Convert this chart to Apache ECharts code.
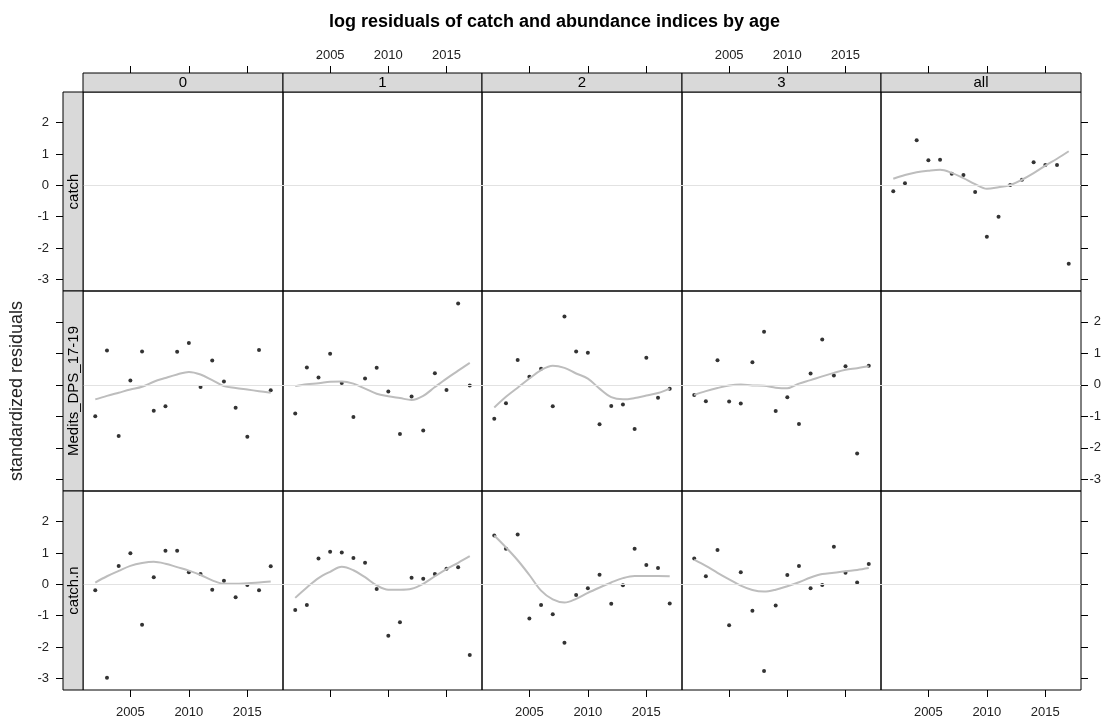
<!DOCTYPE html>
<html><head><meta charset="utf-8">
<script src="https://cdn.jsdelivr.net/npm/echarts@6/dist/echarts.min.js"></script>
<style>html,body{margin:0;padding:0;background:#fff}#c{width:1109px;height:720px}</style>
</head><body><div id="c"></div>
<script>
// ---- data ----
const years = [2002,2003,2004,2005,2006,2007,2008,2009,2010,2011,2012,2013,2014,2015,2016,2017];
const ages = ['0','1','2','3','all'];
const qnames = ['catch','Medits_DPS_17-19','catch.n'];
const xTicks = [2005,2010,2015];
const yTicks = [-3,-2,-1,0,1,2];

const catchAll    = [-0.19,0.07,1.44,0.80,0.82,0.37,0.33,-0.21,-1.64,-1.00,0.01,0.18,0.74,0.65,0.65,-2.50];
const catchAllFit = [0.21,0.33,0.42,0.47,0.50,0.40,0.23,0.04,-0.11,-0.06,0.01,0.18,0.39,0.63,0.85,1.09];

const medits0    = [-1.00,1.09,-1.62,0.14,1.06,-0.82,-0.68,1.05,1.33,-0.07,0.77,0.11,-0.73,-1.65,1.11,-0.17];
const medits0Fit = [-0.46,-0.35,-0.25,-0.15,-0.06,0.10,0.22,0.33,0.41,0.33,0.15,-0.04,-0.10,-0.15,-0.20,-0.25];
const medits1    = [-0.91,0.55,0.23,0.99,0.06,-1.02,0.20,0.54,-0.21,-1.56,-0.37,-1.45,0.37,-0.16,2.58,-0.02];
const medits1Fit = [-0.04,0.02,0.05,0.10,0.11,0.04,-0.12,-0.28,-0.36,-0.42,-0.48,-0.35,-0.07,0.20,0.45,0.70];
const medits2    = [-1.08,-0.58,0.79,0.26,0.51,-0.68,2.17,1.06,1.02,-1.25,-0.67,-0.62,-1.40,0.86,-0.41,-0.12];
const medits2Fit = [-0.72,-0.38,-0.09,0.20,0.47,0.61,0.54,0.36,0.20,-0.12,-0.39,-0.46,-0.42,-0.34,-0.26,-0.12];
const medits3    = [-0.32,-0.52,0.78,-0.53,-0.59,0.72,1.69,-0.83,-0.39,-1.24,0.36,1.44,0.30,0.59,-2.18,0.61];
const medits3Fit = [-0.32,-0.20,-0.10,-0.02,0.01,-0.02,-0.03,-0.09,-0.11,0.04,0.15,0.27,0.38,0.48,0.53,0.59];

const catchN0    = [-0.19,-2.98,0.59,0.99,-1.29,0.23,1.07,1.07,0.39,0.33,-0.17,0.12,-0.41,-0.02,-0.19,0.58];
const catchN0Fit = [0.06,0.26,0.43,0.59,0.68,0.72,0.66,0.55,0.44,0.30,0.13,0.02,0.02,0.04,0.06,0.09];
const catchN1    = [-0.82,-0.66,0.83,1.04,1.02,0.84,0.69,-0.15,-1.64,-1.21,0.21,0.18,0.33,0.50,0.55,-2.25];
const catchN1Fit = [-0.43,-0.10,0.20,0.40,0.56,0.45,0.23,-0.03,-0.17,-0.17,-0.14,0.02,0.26,0.49,0.69,0.90];
const catchN2    = [1.56,1.14,1.59,-1.09,-0.66,-0.95,-1.86,-0.34,-0.12,0.31,-0.62,-0.03,1.14,0.62,0.52,-0.61];
const catchN2Fit = [1.56,1.18,0.77,0.30,-0.20,-0.48,-0.58,-0.46,-0.27,-0.10,0.06,0.20,0.27,0.27,0.27,0.26];
const catchN3    = [0.83,0.26,1.10,-1.30,0.39,-0.84,-2.76,-0.67,0.30,0.59,-0.12,-0.02,1.20,0.37,0.06,0.65];
const catchN3Fit = [0.79,0.59,0.37,0.16,-0.04,-0.18,-0.23,-0.17,-0.06,0.07,0.22,0.33,0.37,0.42,0.46,0.52];

const panels = [
  {row:0,col:4,pts:catchAll,fit:catchAllFit},
  {row:1,col:0,pts:medits0,fit:medits0Fit},
  {row:1,col:1,pts:medits1,fit:medits1Fit},
  {row:1,col:2,pts:medits2,fit:medits2Fit},
  {row:1,col:3,pts:medits3,fit:medits3Fit},
  {row:2,col:0,pts:catchN0,fit:catchN0Fit},
  {row:2,col:1,pts:catchN1,fit:catchN1Fit},
  {row:2,col:2,pts:catchN2,fit:catchN2Fit},
  {row:2,col:3,pts:catchN3,fit:catchN3Fit}
];

// ---- layout ----
const FONT = 'Liberation Sans, Arial, sans-serif';
const L=83, R=1081, T=92, B=690, S=19;
const X_MIN=2000.95, X_MAX=2018.05, Y_MIN=-3.37, Y_MAX=2.98;
const colEdge = c => Math.round(L + (R-L)*c/5);
const rowEdge = r => Math.round(T + (B-T)*r/3);

const grids=[], xAxes=[], yAxes=[], series=[], graphics=[];
const fmt = v => String(v);
for (let r=0;r<3;r++){
  for (let c=0;c<5;c++){
    const gi = grids.length;
    grids.push({left:colEdge(c), top:rowEdge(r), width:colEdge(c+1)-colEdge(c), height:rowEdge(r+1)-rowEdge(r),
      show:true, borderColor:'#000', borderWidth:1, backgroundColor:'transparent', containLabel:false});
    const xa = {type:'value', gridIndex:gi, min:X_MIN, max:X_MAX, splitLine:{show:false}};
    if (r===0 || r===2){
      Object.assign(xa,{position: r===0?'top':'bottom', offset: r===0?S:0,
        axisLine:{show:false, onZero:false},
        axisTick:{show:true, inside:false, length:7, lineStyle:{color:'#000',width:1}, customValues:xTicks},
        axisLabel:{show: r===0 ? (c%2===1) : (c%2===0), margin: r===0?11:16, customValues:xTicks,
          formatter:fmt, fontFamily:FONT, fontSize:13, color:'#222'}});
    } else { xa.show=false; xa.axisLine={show:false,onZero:false}; }
    xAxes.push(xa);
    const ya = {type:'value', gridIndex:gi, min:Y_MIN, max:Y_MAX, splitLine:{show:false}};
    if (c===0 || c===4){
      const labelShow = c===0 ? r!==1 : r===1;
      Object.assign(ya,{position: c===0?'left':'right', offset: c===0?20:0,
        axisLine:{show:false, onZero:false},
        axisTick:{show:true, inside:false, length:7, lineStyle:{color:'#000',width:1}, customValues:yTicks},
        axisLabel:{show:labelShow, margin:c===0?14:20, align:'right', customValues:yTicks, formatter:fmt,
          fontFamily:FONT, fontSize:13, color:'#222'}});
      if (c===0 && r===1){
        Object.assign(ya,{name:'standardized residuals', nameLocation:'middle', nameGap:37,
          nameTextStyle:{fontFamily:FONT, fontSize:18, color:'#222'}});
      }
    } else { ya.show=false; ya.axisLine={show:false,onZero:false}; }
    yAxes.push(ya);
    // zero reference line
    series.push({type:'line', xAxisIndex:gi, yAxisIndex:gi, data:[], z:1,
      markLine:{silent:true, symbol:['none','none'], label:{show:false},
        lineStyle:{color:'#e2e2e2', width:1, type:'solid'}, data:[{yAxis:0}]}});
  }
}
panels.forEach(p=>{
  const gi = p.row*5 + p.col;
  series.push({type:'scatter', xAxisIndex:gi, yAxisIndex:gi, z:2, symbol:'circle', symbolSize:4,
    itemStyle:{color:'#000'}, data: years.map((y,i)=>[y,p.pts[i]])});
  series.push({type:'line', xAxisIndex:gi, yAxisIndex:gi, z:3, smooth:0.35, showSymbol:false,
    lineStyle:{color:'#bdbdbd', width:2}, data: years.map((y,i)=>[y,p.fit[i]])});
});

// strips
for (let c=0;c<5;c++){
  const x0=colEdge(c), x1=colEdge(c+1);
  graphics.push({type:'rect', shape:{x:x0, y:T-S, width:x1-x0, height:S}, style:{fill:'#d9d9d9', stroke:'#000', lineWidth:1}, z:10});
  graphics.push({type:'text', x:(x0+x1)/2, y:T-S/2+0.5, style:{text:ages[c], fontFamily:FONT, fontSize:15, fill:'#000', align:'center', verticalAlign:'middle'}, z:11});
}
for (let r=0;r<3;r++){
  const y0=rowEdge(r), y1=rowEdge(r+1);
  graphics.push({type:'rect', shape:{x:L-20, y:y0, width:20, height:y1-y0}, style:{fill:'#d9d9d9', stroke:'#000', lineWidth:1}, z:10});
  graphics.push({type:'text', x:L-10+0.5, y:(y0+y1)/2, rotation:Math.PI/2, style:{text:qnames[r], fontFamily:FONT, fontSize:15, fill:'#000', align:'center', verticalAlign:'middle'}, z:11});
}

const chart = echarts.init(document.getElementById('c'), null, {renderer:'canvas'});
chart.setOption({
  animation:false,
  backgroundColor:'#fff',
  title:{text:'log residuals of catch and abundance indices by age', left:'center', top:8,
    textStyle:{fontFamily:FONT, fontSize:18, fontWeight:'bold', color:'#000'}},
  grid:grids, xAxis:xAxes, yAxis:yAxes, series:series, graphic:graphics
});
</script></body></html>
